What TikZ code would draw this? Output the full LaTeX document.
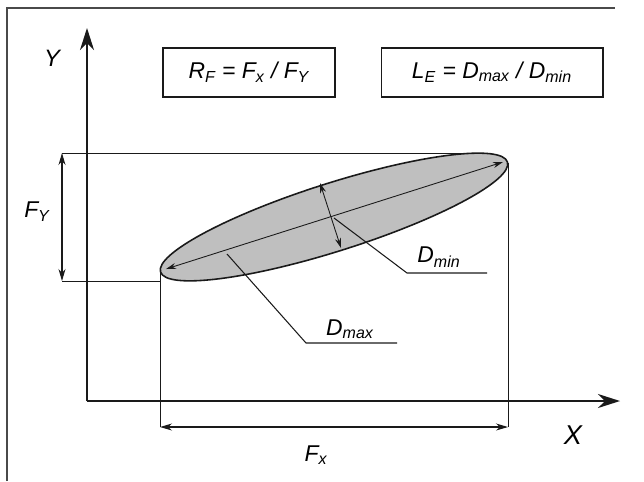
\documentclass[tikz,border=0pt]{standalone}
\usepackage{fontspec}
\setmainfont{Liberation Sans}
\usepackage{xcolor}
\usepackage{tikz}
\usetikzlibrary{arrows.meta,calc}
\definecolor{ink}{HTML}{1A1A1A}
\definecolor{stipple}{HTML}{BFBFBF}
\definecolor{framegray}{HTML}{4A4A4A}
\newcommand\sbs[1]{\textsubscript{#1}}

\begin{document}
\begin{tikzpicture}[x=0.02cm,y=-0.02cm,
		ax/.style={-{Stealth[length=4.4mm,width=2.8mm,inset=1.4mm]},draw=ink,line width=1pt},
		dim/.style={{Stealth[length=2.4mm,width=1.4mm]}-{Stealth[length=2.4mm,width=1.4mm]},draw=ink,line width=0.6pt},
		axdim/.style={{Stealth[length=2mm,width=1.2mm]}-{Stealth[length=2mm,width=1.2mm]},draw=ink,line width=0.5pt},
		ext/.style={draw=ink,line width=0.5pt},
		lead/.style={draw=ink,line width=0.6pt},
		lbl/.style={font=\itshape\fontsize{13}{15}\selectfont,inner sep=1pt},
		fbox/.style={draw=ink,line width=0.6pt,font=\itshape\fontsize{13}{15}\selectfont,minimum height=0.98cm,inner sep=0pt}
		]
		\useasboundingbox (0,0) rectangle (644,481);
		\draw[framegray,line width=0.7pt] (7,481) -- (7,8) -- (615,8);

		% axes
		\coordinate (O) at (87,401);
		\coordinate (ytip) at (87,28);
		\coordinate (xtip) at (620,401);
		\draw[ax] (O) -- (ytip);
		\draw[ax] (O) -- (xtip);
		\node[lbl,font=\itshape\fontsize{13.5}{15}\selectfont] (ylbl) at (52,58) {Y};
		\node[lbl,font=\itshape\fontsize{15.5}{17}\selectfont] (xlbl) at (573,435) {X};

		% ratio boxes
		\node[fbox,minimum width=3.44cm] (rfbox) at (249,72.5) {R\sbs{F} = F\sbs{x} / F\sbs{Y}};
		\node[fbox,minimum width=4.44cm] (lebox) at (492,72.5) {L\sbs{E} = D\sbs{max} / D\sbs{min}};

		% particle
		\coordinate (c) at (334,217);
		\fill[stipple,rotate around={17.6:(c)}] (c) ellipse [x radius=3.64cm,y radius=0.68cm];
		\draw[ink,line width=0.9pt,rotate around={17.6:(c)}] (c) ellipse [x radius=3.64cm,y radius=0.68cm];
		\coordinate (majl) at (166,269);
		\coordinate (majr) at (503,162);
		\coordinate (mint) at (320,183);
		\coordinate (minb) at (341,248);
		\draw[axdim] (majl) -- (majr);
		\draw[axdim] (mint) -- (minb);

		% projections
		\coordinate (etop) at (480,153);
		\coordinate (ebot) at (160,281);
		\coordinate (eleft) at (160,270);
		\coordinate (eright) at (508,163);
		\coordinate (fyt) at (62,153);
		\coordinate (fyb) at (62,281);
		\coordinate (fxl) at (160,427);
		\coordinate (fxr) at (508,427);
		\draw[ext] (fyt) -- (etop);
		\draw[ext] (fyb) -- (ebot);
		\draw[ext] (eleft) -- (fxl);
		\draw[ext] (eright) -- (fxr);
		\draw[dim] (fyt) -- (fyb);
		\draw[dim] (fxl) -- (fxr);
		\node[lbl] (fylbl) at (37,212) {F\sbs{Y}};
		\node[lbl] (fxlbl) at (316,455) {F\sbs{x}};

		% leaders
		\coordinate (dminA) at (334,218);
		\coordinate (dminB) at (407,273);
		\coordinate (dminC) at (487,273);
		\coordinate (dmaxA) at (227,254);
		\coordinate (dmaxB) at (306,343);
		\coordinate (dmaxC) at (397,343);
		\draw[lead] (dminA) -- (dminB) -- (dminC);
		\draw[lead] (dmaxA) -- (dmaxB) -- (dmaxC);
		\node[lbl] (dminlbl) at (439,257) {D\sbs{min}};
		\node[lbl] (dmaxlbl) at (350,329) {D\sbs{max}};
	\end{tikzpicture}
\end{document}
